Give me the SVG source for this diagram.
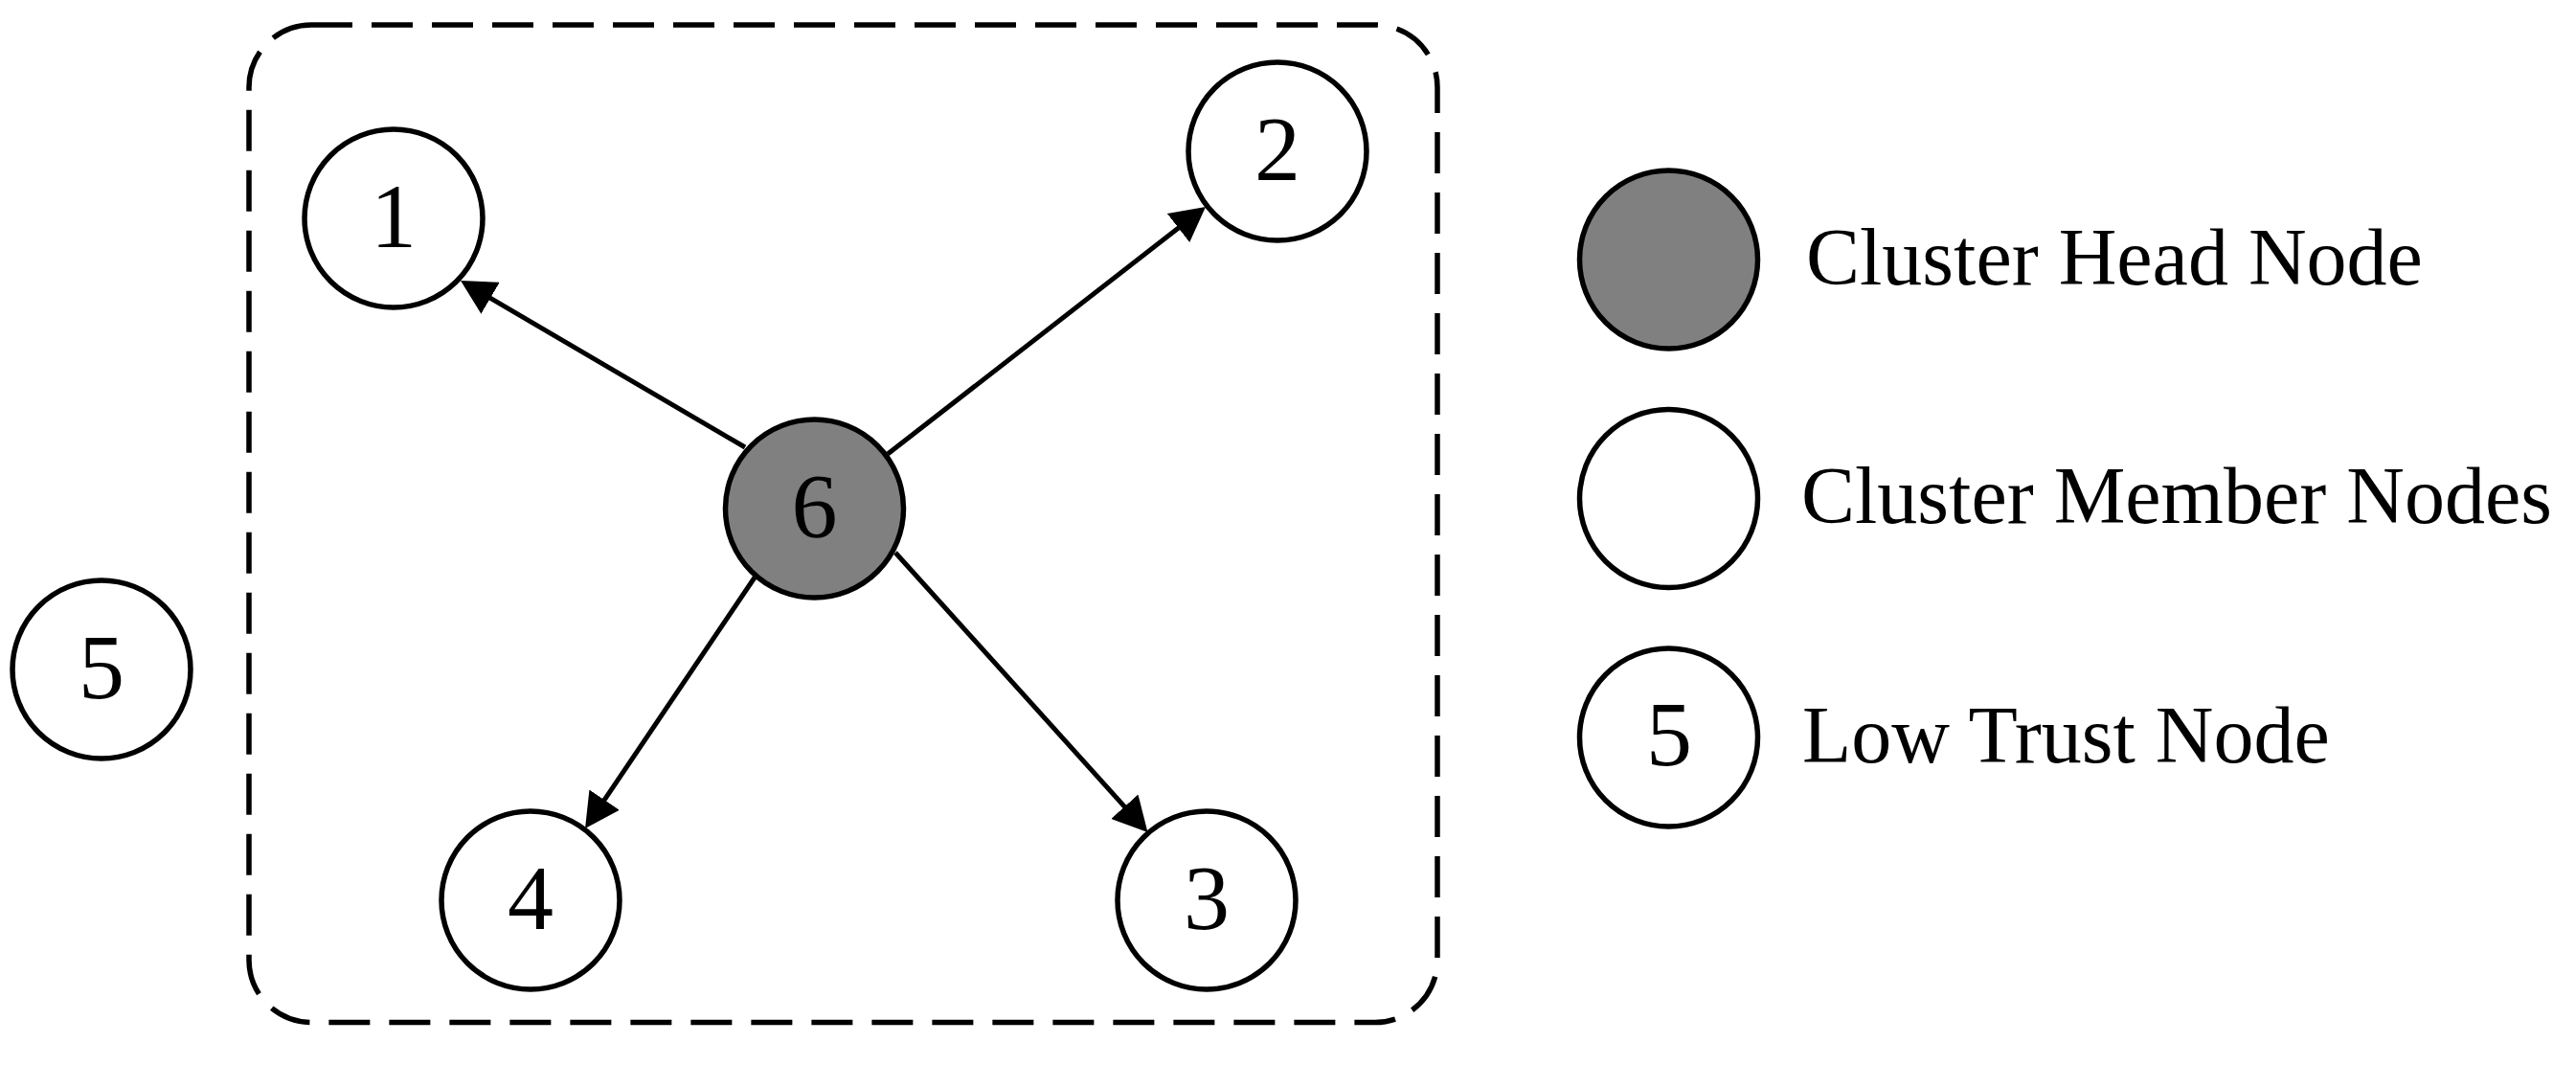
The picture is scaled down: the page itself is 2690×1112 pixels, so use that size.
<svg xmlns="http://www.w3.org/2000/svg" width="2690" height="1112" viewBox="0 0 2690 1112">
<style>
.node{fill:#ffffff;stroke:#000000;stroke-width:5.5}
.head{fill:#808080;stroke:#000000;stroke-width:5.5}
.num{font-family:"Liberation Serif","Times New Roman",serif;font-size:96px;text-anchor:middle;fill:#000000}
.lbl{font-family:"Liberation Serif","Times New Roman",serif;font-size:84px;fill:#000000}
.edge{stroke:#000000;stroke-width:5;fill:none}
.cluster{fill:none;stroke:#000000;stroke-width:5.5;stroke-dasharray:43 20}
</style>
<defs>
<marker id="arrow" markerUnits="userSpaceOnUse" markerWidth="38" markerHeight="38" refX="25" refY="19" orient="auto" viewBox="0 0 38 38">
<path d="M0,0 L36,19 L0,38 z" fill="#000000"/>
</marker>
</defs>
<rect width="2690" height="1112" fill="#ffffff"/>
<g id="cluster-boundary">
<rect class="cluster" x="260" y="26" width="1241" height="1041.5" rx="65" ry="65"/>
</g>
<g id="connectors">
<line class="edge" x1="778" y1="467" x2="490.5" y2="298.6" marker-end="url(#arrow)"/>
<line class="edge" x1="927" y1="474" x2="1250.3" y2="222.7" marker-end="url(#arrow)"/>
<line class="edge" x1="788" y1="603" x2="617.2" y2="855.9" marker-end="url(#arrow)"/>
<line class="edge" x1="935" y1="577" x2="1191.1" y2="860.8" marker-end="url(#arrow)"/>
</g>
<g id="node1"><circle class="node" cx="411" cy="228" r="93"/><text class="num" x="411" y="258">1</text></g>
<g id="node2"><circle class="node" cx="1334" cy="158" r="93"/><text class="num" x="1334" y="188">2</text></g>
<g id="node3"><circle class="node" cx="1260" cy="940" r="93"/><text class="num" x="1260" y="970">3</text></g>
<g id="node4"><circle class="node" cx="554" cy="940" r="93"/><text class="num" x="554" y="970">4</text></g>
<g id="node5"><circle class="node" cx="106" cy="699" r="93"/><text class="num" x="106" y="729">5</text></g>
<g id="node6"><circle class="head" cx="850.5" cy="531" r="93"/><text class="num" x="850.5" y="561">6</text></g>
<g id="legend-head"><circle class="head" cx="1742.5" cy="271" r="93"/><text class="lbl" x="1886" y="297">Cluster Head Node</text></g>
<g id="legend-member"><circle class="node" cx="1742.5" cy="520.5" r="93"/><text class="lbl" x="1881" y="546">Cluster Member Nodes</text></g>
<g id="legend-lowtrust"><circle class="node" cx="1742.5" cy="770" r="93"/><text class="num" x="1743" y="799">5</text><text class="lbl" x="1882" y="796">Low Trust Node</text></g>
</svg>
